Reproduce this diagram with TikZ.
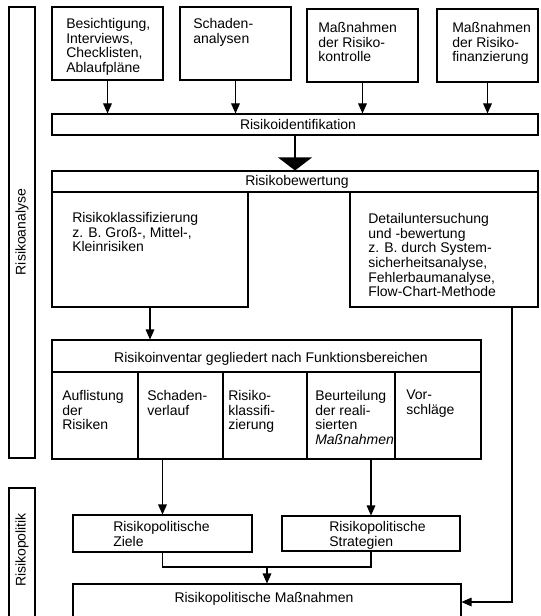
\documentclass[tikz,border=0pt]{standalone}
\usepackage{fontspec}
\setmainfont{Liberation Sans}
\usetikzlibrary{fit,arrows.meta}
\begin{document}
\begin{tikzpicture}[x=0.75pt,y=-0.75pt,
  box/.style={draw,line width=0.8pt,inner sep=0pt},
  txt/.style={inner sep=0pt,align=left,anchor=north west,font=\fontsize{10.5}{11}\selectfont},
  ctxt/.style={inner sep=0pt,font=\fontsize{10.5}{11}\selectfont},
  arr/.style={line width=0.8pt,-{Triangle[length=7.5pt,width=6.5pt]}},
  ln/.style={line width=0.8pt}]
\clip (0,0) rectangle (540,616);
% side bars
\node[box,fit={(9,7)(35,458)}] (ra) {};
\node[box,fit={(9,488)(35,625)}] (rp) {};
\node[ctxt,rotate=90] (lra) at (22,232) {Risikoanalyse};
\node[ctxt,rotate=90] (lrp) at (22,550) {Risikopolitik};
% top boxes
\node[box,fit={(52,7)(163,80)}] (b1) {};
\node[box,fit={(180,7)(291,80)}] (b2) {};
\node[box,fit={(307,9)(418,82)}] (b3) {};
\node[box,fit={(437,9)(538,82)}] (b4) {};
\node[txt] (t1) at (66,18) {Besichtigung,\\Interviews,\\Checklisten,\\Ablaufpläne};
\node[txt] (t2) at (193,18) {Schaden-\\analysen};
\node[txt] (t3) at (318,22) {Maßnahmen\\der Risiko-\\kontrolle};
\node[txt] (t4) at (452,22) {Maßnahmen\\der Risiko-\\finanzierung};
% identification / evaluation bars
\node[box,fit={(52,114)(538,135)}] (ident) {};
\node[ctxt,anchor=base] (tident) at (298,130) {Risikoidentifikation};
\node[box,fit={(52,171)(538,192)}] (bew) {};
\node[ctxt,anchor=base] (tbew) at (297,186) {Risikobewertung};
\foreach \b in {b1,b2,b3,b4}
  \draw[arr] (\b.south) -- (\b.south |- ident.north);
\draw[ln] (ident.south) -- ++(0,25);
\fill (bew.north) -- ++(-17,-13) -- ++(34,0) -- cycle;
% evaluation boxes
\node[box,fit={(52,192)(248,307)}] (klass) {};
\node[txt] (tklass) at (72,212) {Risikoklassifizierung\\z. B. Groß-, Mittel-,\\Kleinrisiken};
\node[box,fit={(350,192)(538,307)}] (det) {};
\node[txt] (tdet) at (368,213) {Detailuntersuchung\\und -bewertung\\z. B. durch System-\\sicherheitsanalyse,\\Fehlerbaumanalyse,\\Flow-Chart-Methode};
% inventory
\node[box,fit={(52,340)(481,372)}] (hdr) {};
\node[ctxt,anchor=base] (thdr) at (271,362) {Risikoinventar gegliedert nach Funktionsbereichen};
\node[box,fit={(52,372)(138,459)}] (c1) {};
\node[box,fit={(138,372)(223,459)}] (c2) {};
\node[box,fit={(223,372)(307,459)}] (c3) {};
\node[box,fit={(307,372)(395,459)}] (c4) {};
\node[box,fit={(395,372)(481,459)}] (c5) {};
\node[txt] (tc1) at (62,390) {Auflistung\\der\\Risiken};
\node[txt] (tc2) at (147,390) {Schaden-\\verlauf};
\node[txt] (tc3) at (228,390) {Risiko-\\klassifi-\\zierung};
\node[txt] (tc4) at (315,390) {Beurteilung\\der reali-\\sierten\\\textit{Maßnahmen}};
\node[txt] (tc5) at (406,390) {Vor-\\schläge};
\draw[arr] (klass.south) -- (hdr.north -| klass.south);
% policy
\node[box,fit={(73,515)(252,552)}] (ziele) {};
\node[txt] (tziele) at (113,521) {Risikopolitische\\Ziele};
\node[box,fit={(282,516)(460,551)}] (strat) {};
\node[txt] (tstrat) at (329,521) {Risikopolitische\\Strategien};
\node[box,fit={(73,584)(461,625)}] (mass) {};
\node[ctxt,anchor=base] (tmass) at (264,602) {Risikopolitische Maßnahmen};
\draw[arr] (c2.south -| ziele.north) -- (ziele.north);
\draw[arr] (c4.south -| strat.north) -- (strat.north);
\coordinate (j) at (267,567);
\draw[ln] (ziele.south) |- (j);
\draw[ln] (strat.south) |- (j);
\draw[arr] (j) -- (mass.north);
\coordinate (rc) at (512,602);
\draw[arr] (det.south -| rc) -- (rc) -- (mass.east |- rc);
\end{tikzpicture}
\end{document}
